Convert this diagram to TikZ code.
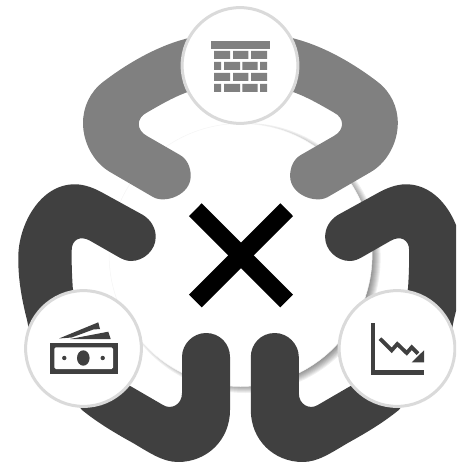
\documentclass[tikz,border=0pt]{standalone}
\definecolor{ribbonmid}{HTML}{808080}
\definecolor{ribbondark}{HTML}{404040}
\definecolor{ringgray}{HTML}{DADADA}
\tikzset{
  iconring/.style={circle,draw=ringgray,line width=3pt,fill=white,minimum size=115.8pt,inner sep=0pt,outer sep=0pt},
  midfill/.style={fill=ribbonmid},
  darkfill/.style={fill=ribbondark},
  crossarm/.style={draw=black,line width=18pt,line cap=butt},
  zig/.style={draw=ribbondark,line width=3.8pt,line join=miter}
}
\newcommand{\topribbon}{%
  \fill[midfill] (200,35) -- (185,39) .. controls (155,47) and (125,65) .. (103,82)
    .. controls (90,92) and (83,107) .. (83,123) .. controls (83,142) and (93,162) .. (110,172)
    -- (153,197) .. controls (165,204) and (190.7,195) .. (190.7,176)
    .. controls (190.7,167) and (187,159) .. (180,155) -- (147,136)
    .. controls (136,130) and (136,118) .. (147,112.5) .. controls (160,105) and (172,98) .. (185,93)
    -- (200,88) -- cycle;}
\newcommand{\darkribbons}{%
  \fill[darkfill] (30,335) -- (27,320) .. controls (22,300) and (18,280) .. (18.3,256.7)
    .. controls (18.5,225) and (40,184) .. (75,184.3) .. controls (85,184.3) and (95,188.5) .. (103,193)
    -- (143,215) .. controls (151,220) and (155.7,228) .. (155.7,237)
    .. controls (155.7,250) and (144,261) .. (131,261) .. controls (126,261) and (122,259) .. (118,256.7)
    -- (90,240.7) .. controls (80,235) and (71.7,240) .. (71.7,250)
    .. controls (71.5,265) and (72,275) .. (72.7,287) -- (78,325) -- cycle;
  \fill[darkfill] (70,395) -- (82,410) .. controls (98,423) and (115,433) .. (133,443)
    .. controls (150,453) and (163,462) .. (178,462) .. controls (207,462) and (230,440) .. (230,410)
    -- (230,357) .. controls (230,344) and (220,333) .. (206,333)
    .. controls (193,333) and (182,344) .. (182,357) -- (182,393)
    .. controls (182,405) and (171,410) .. (163,405) -- (132,387) -- (110,375) -- cycle;}
\begin{document}
\begin{tikzpicture}[x=1pt,y=-1pt]
\useasboundingbox (0,0) rectangle (456,462);
\clip (0,0) rectangle (456,462);
% disc shadow
\foreach \r in {125,126,...,135}{
  \fill[black,opacity=0.06] (245.6,258) circle[radius=\r];
}
\node[circle,fill=white,draw=black!4,line width=0.5pt,minimum size=263pt,inner sep=0pt] (disc) at (240.6,255) {};
% ribbons
\topribbon
\begin{scope}[shift={(480.8,0)},xscale=-1]\topribbon\end{scope}
\darkribbons
\begin{scope}[shift={(480.8,0)},xscale=-1]\darkribbons\end{scope}
% rings
\node[iconring] (wall) at (240,65.5) {};
\node[iconring] (money) at (83.5,348.5) {};
\node[iconring] (chart) at (397,348.5) {};
% brick icon
\fill[midfill] (211.3,40.7) rectangle (270,48.7);
\foreach \y in {51,73}{
  \fill[midfill] (214,\y) rectangle (230,\y+8) (233,\y) rectangle (248.3,\y+8) (251,\y) rectangle (267,\y+8);
}
\foreach \y in {62,84}{
  \fill[midfill] (214,\y) rectangle (221,\y+8) (224,\y) rectangle (240,\y+8) (242.3,\y) rectangle (257.7,\y+8) (260,\y) rectangle (267,\y+8);
}
% money icon
\fill[darkfill] (59,338.5) -- (98.3,322.3) -- (100,329) -- (93.3,329.5) -- (71.7,337.5) -- cycle;
\fill[darkfill] (70,339) -- (108.3,331.7) -- (110.7,339) -- cycle;
\fill[darkfill] (49.7,342.7) rectangle (117.7,373.7);
\fill[white,rounded corners=1.5pt] (54.3,347.3) rectangle (113,369);
\fill[darkfill] (83.3,358) circle[x radius=6.3,y radius=7.7];
\fill[darkfill] (64.3,358) circle[radius=2.2] (102.7,358) circle[radius=2.2];
% chart icon
\fill[darkfill] (370.7,322.7) rectangle (375,374.7);
\fill[darkfill] (370.7,370.3) rectangle (424,374.7);
\draw[zig] (380,338.7) -- (391.7,350.3) -- (397.3,344) -- (406.7,353) -- (411.7,347.3) -- (418,353.7);
\fill[darkfill] (424,350.3) -- (424,362.3) -- (411.7,362.3) -- cycle;
% cross
\coordinate (xa) at (195.3,209.7);
\coordinate (xb) at (286.7,301);
\coordinate (xc) at (286.7,209.7);
\coordinate (xd) at (195.3,301);
\draw[crossarm] (xa) -- (xb);
\draw[crossarm] (xc) -- (xd);
\end{tikzpicture}
\end{document}
